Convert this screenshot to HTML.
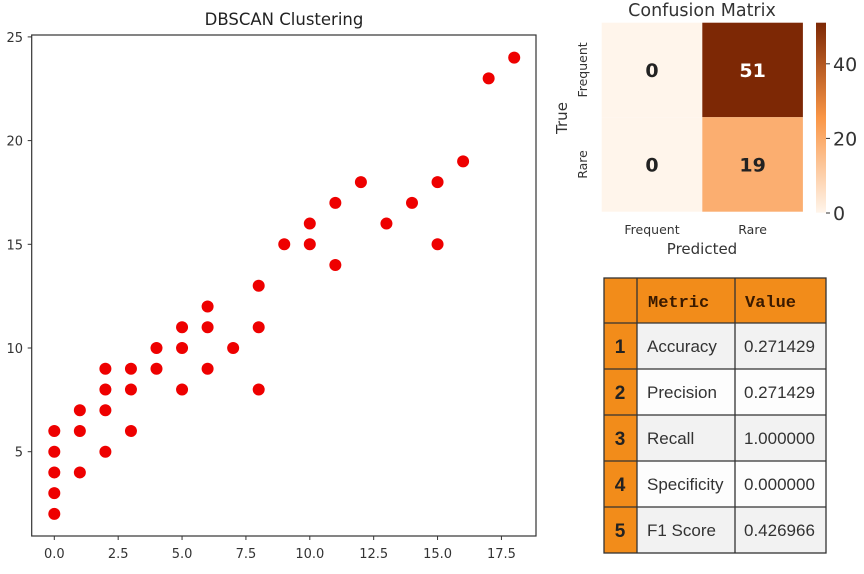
<!DOCTYPE html>
<html><head><meta charset="utf-8"><style>
body{margin:0;background:#fff;width:864px;height:569px;overflow:hidden}
</style></head><body>
<svg id="s" width="864" height="569" style="font-family:'DejaVu Sans','Liberation Sans',sans-serif">
<text x="284" y="25" text-anchor="middle" font-size="16.5" fill="#222">DBSCAN Clustering</text>
<rect x="31.7" y="35" width="504.3" height="501" fill="none" stroke="#333" stroke-width="1.2"/>
<g id="sc"></g>
<text x="702" y="16" text-anchor="middle" font-size="17.5" fill="#333">Confusion Matrix</text>
<g id="cm"></g>
<g id="tb"></g>
</svg>
<script>
const NS="http://www.w3.org/2000/svg";
function mk(p,t,a,txt){const e=document.createElementNS(NS,t);for(const k in a)e.setAttribute(k,a[k]);if(txt!==undefined)e.textContent=txt;p.appendChild(e);return e;}
const xs=[0,0,0,0,0,1,1,1,2,2,2,2,3,3,3,4,4,5,5,5,6,6,6,7,8,8,8,9,10,10,11,11,12,13,14,15,15,16,17,18];
const ys=[2,3,4,5,6,4,6,7,5,7,8,9,6,8,9,9,10,8,10,11,9,11,12,10,8,11,13,15,15,16,14,17,18,16,17,15,18,19,23,24];
const xTicks=[0,2.5,5,7.5,10,12.5,15,17.5];
const yTicks=[5,10,15,20,25];
const cmVals=[[0,51],[0,19]];
const cmRows=['Frequent','Rare'], cmCols=['Frequent','Rare'];
const cbTicks=[0,20,40];
const metrics=['Accuracy','Precision','Recall','Specificity','F1 Score'];
const values=['0.271429','0.271429','1.000000','0.000000','0.426966'];
const X=v=>54.3+v*25.55, Y=v=>451.7-(v-5)*20.74;
const sc=document.getElementById('sc');
xTicks.forEach(t=>{
 const l=mk(sc,'line',{x1:X(t),x2:X(t),y1:536,y2:540,stroke:'#333'});
 
 
 const tx=mk(sc,'text',{x:X(t),y:558,'text-anchor':'middle','font-size':13,fill:'#333'},t.toFixed(1));
 
 
});
yTicks.forEach(t=>{
 const l=mk(sc,'line',{x1:27.7,x2:31.7,y1:Y(t),y2:Y(t),stroke:'#333'});
 
 
 const tx=mk(sc,'text',{x:23,y:Y(t)+5,'text-anchor':'end','font-size':13,fill:'#333'},t);
 
 
});
xs.forEach((x,i)=>{
 const c=mk(sc,'circle',{cx:X(x),cy:Y(ys[i]),r:6,fill:'#ee0000'});
 
 
});
const cm=document.getElementById('cm');
function col(v){const t=v/51;const a=[255,245,235],m=[250,150,70],b=[125,40,5];let c;
 if(t<0.5){const u=t/0.5;c=a.map((x,i)=>x+(m[i]-x)*u);}else{const u=(t-0.5)/0.5;c=m.map((x,i)=>x+(b[i]-x)*u);}
 return 'rgb('+c.map(Math.round).join(',')+')';}
const cx0=601.7,cy0=22.7,cw=100.6,ch=94.5;
cmVals.forEach((row,r)=>row.forEach((v,c)=>{
 const rc=mk(cm,'rect',{x:cx0+c*cw,y:cy0+r*ch,width:cw,height:ch,fill:col(v)});
 
 
 const tx=mk(cm,'text',{x:cx0+c*cw+cw/2,y:cy0+r*ch+ch/2+7,'text-anchor':'middle','font-size':19,'font-weight':'bold',fill:v>30?'#fff':'#222'},v);
 
 
}));
cmRows.forEach((n,r)=>{
 const yy=cy0+r*ch+ch/2, tx=mk(cm,'text',{x:587,y:yy,'text-anchor':'middle','font-size':12.5,fill:'#333',transform:`rotate(-90 587 ${yy})`},n);
 
 
});
cmCols.forEach((n,c)=>{
 const tx=mk(cm,'text',{x:cx0+c*cw+cw/2,y:234,'text-anchor':'middle','font-size':12.5,fill:'#333'},n);
 
 
});
let t1=mk(cm,'text',{x:567,y:118,'text-anchor':'middle','font-size':15,fill:'#333',transform:'rotate(-90 567 118)'},'True');

let t2=mk(cm,'text',{x:702,y:254,'text-anchor':'middle','font-size':15,fill:'#333'},'Predicted');

const defs=mk(cm,'defs',{});const g=mk(defs,'linearGradient',{id:'cb',x1:0,y1:1,x2:0,y2:0});
for(let i=0;i<=10;i++)mk(g,'stop',{offset:i/10,'stop-color':col(51*i/10)});
const cbr=mk(cm,'rect',{x:816,y:22.7,width:10,height:190,fill:'url(#cb)'});

const CB=v=>213-v*3.73;
cbTicks.forEach(t=>{
 const l=mk(cm,'line',{x1:826,x2:830,y1:CB(t),y2:CB(t),stroke:'#333'});
 
 const tx=mk(cm,'text',{x:833,y:CB(t)+7,'font-size':19,fill:'#333'},t);
 
});
const tb=document.getElementById('tb');
const cols=[604,637,735,826], tTop=278, hh=45, rh=46;
const SANS="font-family:'Liberation Sans',Arial,sans-serif", MONO="font-family:'Liberation Mono','DejaVu Sans Mono',monospace";
mk(tb,'rect',{x:604,y:tTop,width:222,height:hh,fill:'#f28c1a'});
let h1=mk(tb,'text',{x:648,y:tTop+29,'font-size':17,'font-weight':'bold',style:MONO,fill:'#3a1a00'},'Metric');

let h2=mk(tb,'text',{x:745,y:tTop+29,'font-size':17,'font-weight':'bold',style:MONO,fill:'#3a1a00'},'Value');

metrics.forEach((m,i)=>{
 const y=tTop+hh+i*rh;
 mk(tb,'rect',{x:604,y:y,width:33,height:rh,fill:'#f28c1a'});
 mk(tb,'rect',{x:637,y:y,width:189,height:rh,fill:i%2?'#fdfdfd':'#f2f2f2'});
 const n=mk(tb,'text',{x:620,y:y+30,'text-anchor':'middle','font-size':19,'font-weight':'bold',style:SANS,fill:'#222'},i+1);
 
 const a=mk(tb,'text',{x:647,y:y+29,'font-size':17,style:SANS,fill:'#333'},m);
 
 const b=mk(tb,'text',{x:744,y:y+29,'font-size':17,style:SANS,fill:'#333'},values[i]);
 
});
const bot=tTop+hh+5*rh;
mk(tb,'rect',{x:604,y:tTop,width:222,height:bot-tTop,fill:'none',stroke:'#333','stroke-width':1.3});
cols.slice(1,3).forEach(x=>mk(tb,'line',{x1:x,x2:x,y1:tTop,y2:bot,stroke:'#333','stroke-width':1.3}));
for(let i=0;i<5;i++){const y=tTop+hh+i*rh;mk(tb,'line',{x1:604,x2:826,y1:y,y2:y,stroke:'#333','stroke-width':1.3});}
</script>
</body></html>
